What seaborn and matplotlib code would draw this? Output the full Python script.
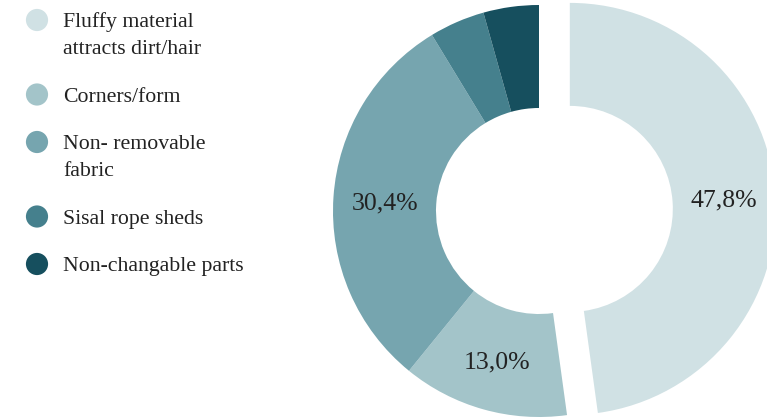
import matplotlib
matplotlib.use("Agg")
import matplotlib.pyplot as plt
import seaborn as sns

categories = ["Fluffy material\nattracts dirt/hair", "Corners/form",
              "Non- removable\nfabric", "Sisal rope sheds", "Non-changable parts"]
counts = [11, 3, 7, 1, 1]
colors = ["#d0e1e4", "#a3c4c9", "#76a5af", "#45808d", "#164f5e"]
explode = [0.15, 0, 0, 0, 0]


def fmt_pct(p):
    if p < 5:
        return ""
    return f"{p:.1f}%".replace(".", ",")


def plot_data():
    sns.set_theme(style="white")
    plt.rcParams["font.family"] = ["Liberation Serif", "DejaVu Serif"]
    palette = sns.color_palette(colors)

    fig = plt.figure(figsize=(7.67, 4.19), dpi=100)
    ax = fig.add_axes([0, 0, 1, 1])
    wedges, texts, autotexts = ax.pie(
        counts, colors=palette, startangle=90, counterclock=False,
        explode=explode, autopct=fmt_pct, pctdistance=0.75,
        wedgeprops=dict(width=0.5, linewidth=0),
        textprops=dict(fontsize=18.5, color="#222222"))
    for t in autotexts:
        t.set_va("center_baseline")
    ax.set_xlim(-539 / 206, 228 / 206)
    ax.set_ylim(-208 / 206, 211 / 206)
    ax.set_aspect("auto")
    ax.axis("off")

    # legend drawn by hand, marker on the first line of each entry (pixel coords)
    lax = fig.add_axes([0, 0, 1, 1], zorder=3)
    lax.set_xlim(0, 767)
    lax.set_ylim(419, 0)
    lax.axis("off")
    y = 20
    for label, c in zip(categories, palette):
        lax.scatter([37], [y], s=255, color=c, edgecolors="none")
        lines = label.split("\n")
        for k, line in enumerate(lines):
            lax.text(63, y + k * 27, line, fontsize=15.7, color="#222222",
                     va="center_baseline", ha="left")
        y += (len(lines) - 1) * 27 + 47.5

    fig.savefig("out.png", dpi=100)


def main():
    plot_data()


if __name__ == "__main__":
    main()
